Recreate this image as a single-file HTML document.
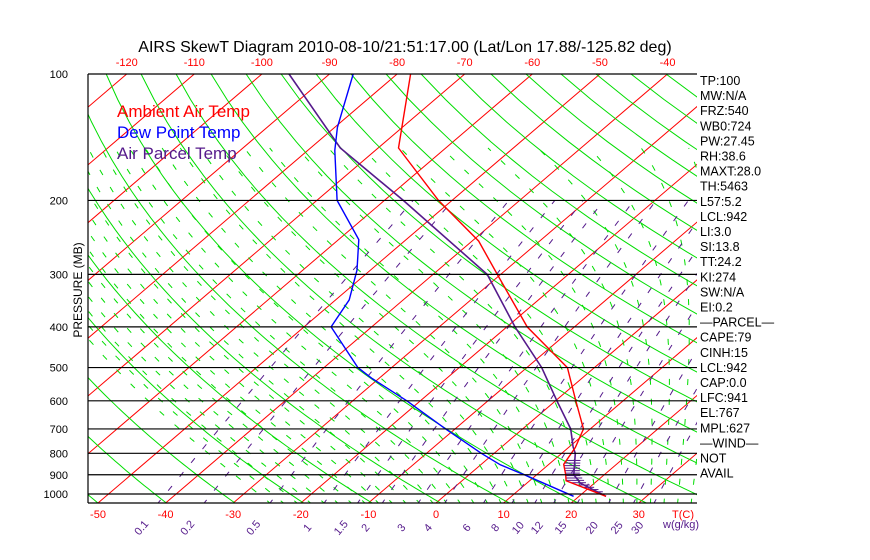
<!DOCTYPE html>
<html><head><meta charset="utf-8">
<style>
html,body{margin:0;padding:0;background:#fff;}
svg{display:block;font-family:"Liberation Sans",sans-serif;}
</style></head>
<body>
<svg id="chart" width="870" height="560" viewBox="0 0 870 560" xmlns="http://www.w3.org/2000/svg">
<defs><clipPath id="plotclip"><rect x="88" y="74" width="609" height="429"/></clipPath></defs>
<rect width="870" height="560" fill="#fff"/>
<text x="405" y="52" text-anchor="middle" font-size="16" fill="#000">AIRS SkewT Diagram 2010-08-10/21:51:17.00 (Lat/Lon 17.88/-125.82 deg)</text>
<g id="grid" clip-path="url(#plotclip)"></g>
<g id="marks" clip-path="url(#plotclip)"></g>
<g id="axes"></g>
<text x="117" y="117" font-size="17" fill="#ff0000">Ambient Air Temp</text>
<text x="117" y="138" font-size="17" fill="#0000ff">Dew Point Temp</text>
<text x="117" y="159" font-size="17" fill="#551a8b">Air Parcel Temp</text>
<text transform="translate(82,290) rotate(-90)" text-anchor="middle" font-size="12" fill="#000">PRESSURE (MB)</text>
<g id="stats"></g>
</svg>
<script>
const pressureTicks=[100,200,300,400,500,600,700,800,900,1000];
const bottomTempTicks=[-50,-40,-30,-20,-10,0,10,20,30];
const topTempTicks=[-120,-110,-100,-90,-80,-70,-60,-50,-40];
const mixingRatios=[0.1,0.2,0.5,1,1.5,2,3,4,6,8,10,12,15,20,25,30];
const mixingLabels=["0.1","0.2","0.5","1","1.5","2","3","4","6","8","10","12","15","20","25","30"];
const tempP=[100,150,200,250,300,400,500,600,700,775,850,900,930,1013];
const tempT=[-78,-67,-52,-39,-30.5,-17,-4,3,9,11,12.2,14.3,15.4,24];
const dewP=[100,134,152,200,248,293,345,400,500,531,600,700,800,852,900,1013];
const dewT=[-86.5,-79.6,-76,-67,-57,-52,-48,-46,-35,-31,-22,-11.4,-1.9,2.9,8.2,19.2];
const parcelP=[100,150,200,300,400,500,600,700,773,800,900,942,1013];
const parcelT=[-96,-75.6,-57.2,-32,-18.8,-7.8,0.2,7.1,10.6,12,15.5,17.9,24];
const stats=["TP:100","MW:N/A","FRZ:540","WB0:724","PW:27.45","RH:38.6","MAXT:28.0","TH:5463","L57:5.2","LCL:942","LI:3.0","SI:13.8","TT:24.2","KI:274","SW:N/A","EI:0.2","\u2014PARCEL\u2014","CAPE:79","CINH:15","LCL:942","CAP:0.0","LFC:941","EL:767","MPL:627","\u2014WIND\u2014","NOT","AVAIL"];

const NS="http://www.w3.org/2000/svg";
function yP(p){return 74+182.4*Math.log(p/100);}
function xT(T,y){return 436+6.76*T+(503-y)*1.17;}
function mk(tag,attrs,parent){const e=document.createElementNS(NS,tag);for(const k in attrs)e.setAttribute(k,attrs[k]);parent.appendChild(e);return e;}
const grid=document.getElementById('grid'),marks=document.getElementById('marks'),axes=document.getElementById('axes'),st=document.getElementById('stats');
function pathFrom(ps,ts){let d='';for(let i=0;i<ps.length;i++){const y=yP(ps[i]);d+=(i?'L':'M')+xT(ts[i],y).toFixed(1)+','+y.toFixed(1);}return d;}

for(let T=-160;T<=50;T+=10){
  const l=mk('line',{x1:xT(T,503),y1:503,x2:xT(T,74),y2:74,stroke:'#ff0000','stroke-width':1},grid);
  
  
}
for(let th=200;th<=520;th+=10){
  const ps=[],ts=[];
  for(let p=1060;p>=95;p-=15){ps.push(p);ts.push(th*Math.pow(p/1000,0.286)-273.15);}
  const e=mk('path',{d:pathFrom(ps,ts),fill:'none',stroke:'#00dd00','stroke-width':1},grid);
  
  
}
function esat(T){return 6.112*Math.exp(17.67*T/(T+243.5));}
for(let T0=-24;T0<=46;T0+=2){
  const ps=[],ts=[];let T=T0+273.15;
  for(let p=1060;p>=150;p-=5){
    ps.push(p);ts.push(T-273.15);
    const es=esat(T-273.15),rs=0.622*es/(p-es);
    const dTdp=(287*T+2.5e6*rs)/(1004+2.5e6*2.5e6*rs*0.622/(287*T*T))/p;
    T-=dTdp*5;
  }
  const e=mk('path',{d:pathFrom(ps,ts),fill:'none',stroke:'#00dd00','stroke-width':1,'stroke-dasharray':'6,14'},grid);
  
  
}
function tw(w,p){const es=w*p/(622+w);const l=Math.log(es/6.112);return 243.5*l/(17.67-l);}
mixingRatios.forEach((w,i)=>{
  const ps=[],ts=[];
  for(let p=1060;p>=200;p-=10){ps.push(p);ts.push(tw(w,p));}
  const e=mk('path',{d:pathFrom(ps,ts),fill:'none',stroke:'#551a8b','stroke-width':1,'stroke-dasharray':'6,12'},grid);
  
  
  const x=xT(tw(w,1050),503)-14;
  const t=mk('text',{transform:`translate(${x.toFixed(1)},530) rotate(-50)`,'font-size':11,fill:'#551a8b','text-anchor':'middle'},axes);
  t.textContent=mixingLabels[i];
  
  
});
pressureTicks.forEach(p=>{
  const y=yP(p);
  const l=mk('line',{x1:88,y1:y,x2:697,y2:y,stroke:'#000','stroke-width':1.2},axes);
  
  
  const t=mk('text',{x:68,y:y+4,'font-size':11,'text-anchor':'end',fill:'#000'},axes);
  t.textContent=p;
  
  
});
const b1=mk('line',{x1:88,y1:74,x2:88,y2:503,stroke:'#000','stroke-width':1.2},axes);


const b2=mk('line',{x1:88,y1:503,x2:697,y2:503,stroke:'#000','stroke-width':1.2},axes);


bottomTempTicks.forEach(T=>{
  const t=mk('text',{x:xT(T,503),y:518,'font-size':11,'text-anchor':'middle',fill:'#ff0000'},axes);
  t.textContent=T;
  
  
});
topTempTicks.forEach(T=>{
  const t=mk('text',{x:xT(T,74),y:66,'font-size':11,'text-anchor':'middle',fill:'#ff0000'},axes);
  t.textContent=T;
  
  
});
const tc=mk('text',{x:683,y:518,'font-size':11,'text-anchor':'middle',fill:'#ff0000'},axes);
tc.textContent='T(C)';


const wu=mk('text',{x:663,y:528,'font-size':11,fill:'#551a8b'},axes);
wu.textContent='w(g/kg)';


for(let p=1000;p>=830;p-=12){
  const y=yP(p);
  const interp=(P,T)=>{for(let i=0;i<P.length-1;i++){if(p>=P[i]&&p<=P[i+1]){const f=(p-P[i])/(P[i+1]-P[i]);return T[i]+f*(T[i+1]-T[i]);}}return T[T.length-1];};
  const h=mk('line',{x1:xT(interp(tempP,tempT),y),y1:y,x2:xT(interp(parcelP,parcelT),y)+6,y2:y,stroke:'#551a8b','stroke-width':1},marks);
  
  
}
const pr=mk('path',{d:pathFrom(parcelP,parcelT),fill:'none',stroke:'#551a8b','stroke-width':1.6},marks);


const dw=mk('path',{d:pathFrom(dewP,dewT),fill:'none',stroke:'#0000ff','stroke-width':1.4},marks);


const tl=mk('path',{d:pathFrom(tempP,tempT),fill:'none',stroke:'#ff0000','stroke-width':1.4},marks);


stats.forEach((s,i)=>{
  const t=mk('text',{x:700,y:85+i*15.1,'font-size':12.5,fill:'#000'},st);
  t.textContent=s;
  
  
});
</script>
</body></html>
